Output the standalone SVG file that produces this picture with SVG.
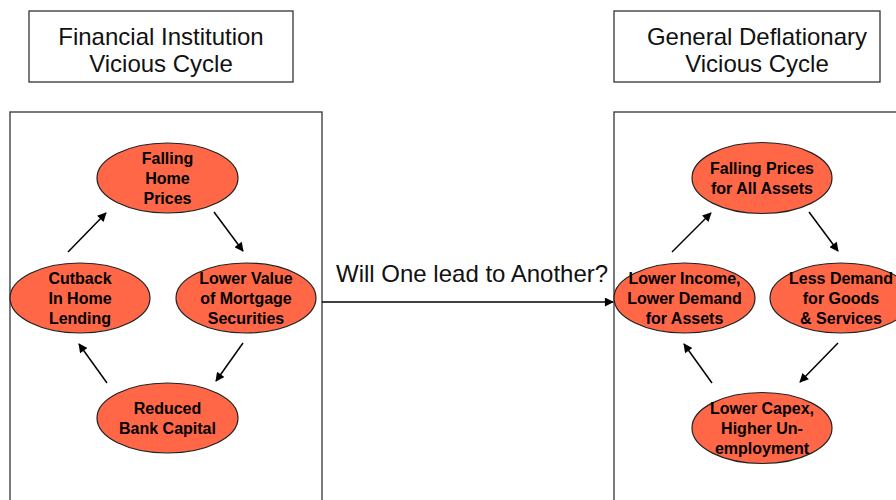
<svg xmlns="http://www.w3.org/2000/svg" width="896" height="500" viewBox="0 0 896 500">
<defs>
<style>
.box{fill:#fff;stroke:#333;stroke-width:1.3}
.title{font-family:"Liberation Sans",Arial,sans-serif;font-size:24px;fill:#111;text-anchor:middle}
.node ellipse{fill:#ff6747;stroke:#222;stroke-width:1.2}
.node text{font-family:"Liberation Sans",Arial,sans-serif;font-size:16px;font-weight:bold;fill:#000;text-anchor:middle}
.conn line{stroke:#000;stroke-width:1.5;marker-end:url(#ah)}
.lbl{font-family:"Liberation Sans",Arial,sans-serif;font-size:24px;fill:#111}
</style>
<marker id="ah" viewBox="0 0 10 10" refX="9" refY="5" markerWidth="10" markerHeight="9" orient="auto" markerUnits="userSpaceOnUse">
<path d="M0,0 L10,5 L0,10 z" fill="#000"/>
</marker>
</defs>
<rect width="896" height="500" fill="#fff"/>

<g id="title-left">
<rect class="box" x="29" y="11" width="264" height="71"/>
<text class="title" x="161" y="45">Financial Institution</text>
<text class="title" x="161" y="72">Vicious Cycle</text>
</g>
<g id="title-right">
<rect class="box" x="614" y="11" width="266" height="71"/>
<text class="title" x="757" y="45">General Deflationary</text>
<text class="title" x="757" y="72">Vicious Cycle</text>
</g>

<g id="panel-left"><rect class="box" x="10" y="112" width="312" height="400"/></g>
<g id="panel-right"><rect class="box" x="614" y="112" width="300" height="400"/></g>

<g class="conn" id="connectors">
<line x1="68" y1="252" x2="106" y2="213"/>
<line x1="214" y1="212" x2="243" y2="251"/>
<line x1="243" y1="343" x2="216" y2="381"/>
<line x1="107" y1="383" x2="79" y2="344"/>
<line x1="672" y1="252" x2="711" y2="213"/>
<line x1="809" y1="212" x2="838" y2="251"/>
<line x1="838" y1="343" x2="800" y2="382"/>
<line x1="712" y1="383" x2="684" y2="344"/>
<line x1="322" y1="302" x2="613" y2="302"/>
</g>
<text class="lbl" x="336" y="282">Will One lead to Another?</text>

<g class="node" id="n-falling-home">
<ellipse cx="167.5" cy="178" rx="70.5" ry="35"/>
<text x="167.5" y="164">Falling</text>
<text x="167.5" y="184">Home</text>
<text x="167.5" y="204">Prices</text>
</g>
<g class="node" id="n-lower-value">
<ellipse cx="246" cy="298" rx="70" ry="35"/>
<text x="246" y="284">Lower Value</text>
<text x="246" y="304">of Mortgage</text>
<text x="246" y="324">Securities</text>
</g>
<g class="node" id="n-reduced">
<ellipse cx="167.5" cy="418" rx="70.5" ry="35"/>
<text x="167.5" y="414">Reduced</text>
<text x="167.5" y="434">Bank Capital</text>
</g>
<g class="node" id="n-cutback">
<ellipse cx="80" cy="298" rx="70" ry="35"/>
<text x="80" y="284">Cutback</text>
<text x="80" y="304">In Home</text>
<text x="80" y="324">Lending</text>
</g>

<g class="node" id="n-falling-prices">
<ellipse cx="762" cy="178" rx="70" ry="35.5"/>
<text x="762" y="174">Falling Prices</text>
<text x="762" y="194">for All Assets</text>
</g>
<g class="node" id="n-less-demand">
<ellipse cx="841" cy="298" rx="71" ry="35"/>
<text x="841" y="284">Less Demand</text>
<text x="841" y="304">for Goods</text>
<text x="841" y="324">&amp; Services</text>
</g>
<g class="node" id="n-lower-capex">
<ellipse cx="762" cy="428" rx="70" ry="35.5"/>
<text x="762" y="414">Lower Capex,</text>
<text x="762" y="434">Higher Un-</text>
<text x="762" y="454">employment</text>
</g>
<g class="node" id="n-lower-income">
<ellipse cx="684.5" cy="298" rx="70.5" ry="35"/>
<text x="684.5" y="284">Lower Income,</text>
<text x="684.5" y="304">Lower Demand</text>
<text x="684.5" y="324">for Assets</text>
</g>
</svg>
